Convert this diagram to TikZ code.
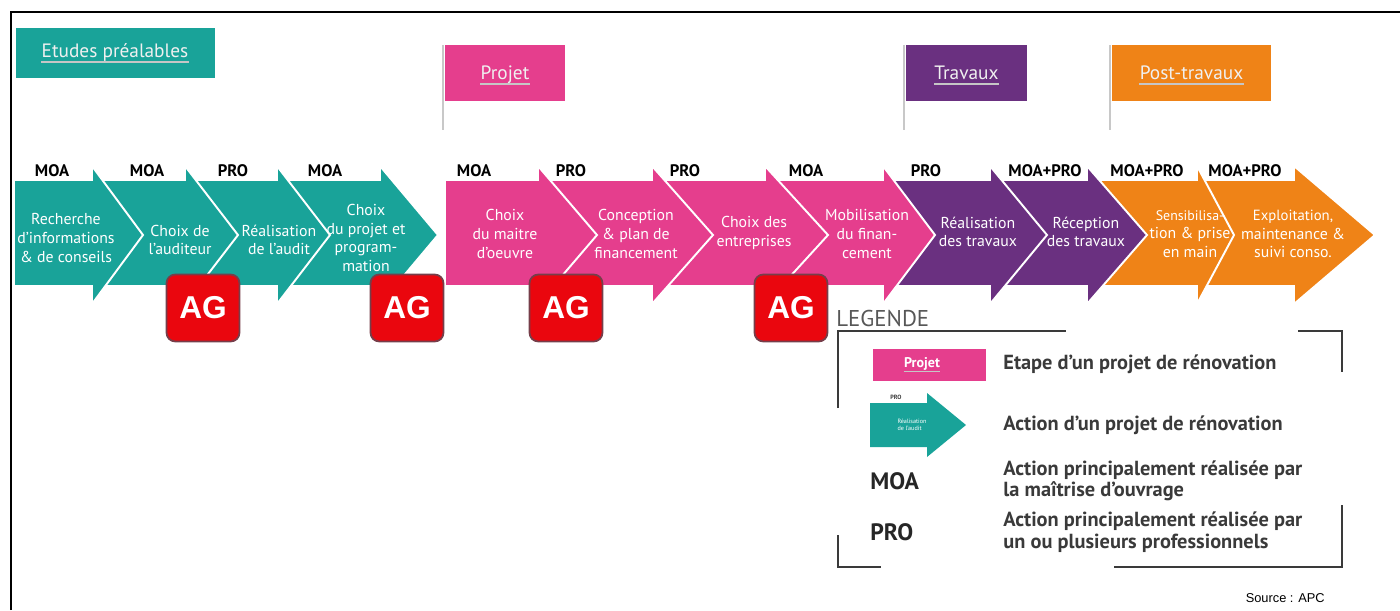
\documentclass[tikz,border=0pt]{standalone}
\usepackage{fontspec}
\setmainfont{PT Sans}
\newfontfamily\arialfont{Liberation Sans}
\usetikzlibrary{positioning}
\definecolor{etudteal}{RGB}{25,163,153}
\definecolor{projpink}{RGB}{229,62,141}
\definecolor{travpurple}{RGB}{106,48,128}
\definecolor{postorange}{RGB}{239,131,23}
\definecolor{agred}{RGB}{234,6,14}
\definecolor{agedge}{RGB}{118,62,74}
\definecolor{textgray}{RGB}{58,58,58}
\definecolor{polegray}{RGB}{200,200,200}

% one action arrow: left, head back, tip, colour
\newcommand{\actarrow}[4]{%
  \filldraw[fill=#4, draw=white, line width=1.1pt] (#1,180) -- (#2,180) -- (#2,166) -- (#3,235) -- (#2,304) -- (#2,286) -- (#1,286) -- cycle;}

\begin{document}
\begin{tikzpicture}[x=0.02cm, y=-0.02cm,
  acttext/.style={text=white, align=center, inner sep=0pt, font=\fontsize{9}{10.6}\selectfont},
  actor/.style={inner sep=0pt, font=\bfseries\fontsize{9.5}{11}\selectfont},
  phase/.style={text=white!94!black, inner sep=0pt, font=\fontsize{11}{13}\selectfont},
  phaseline/.style={white!55!gray, line width=0.9pt},
  pole/.style={polegray, line width=1.2pt},
  agbox/.style={fill=agred, draw=agedge, line width=1pt, rounded corners=5pt, minimum width=1.46cm, minimum height=1.34cm, text=white, font=\arialfont\bfseries\fontsize{18}{18}\selectfont},
  bracket/.style={textgray, line width=1.6pt},
  legkey/.style={anchor=west, inner sep=0pt, text=black!85, font=\bfseries\fontsize{13.5}{15}\selectfont},
  legdesc/.style={anchor=west, align=left, inner sep=0pt, text=textgray, font=\bfseries\fontsize{11.6}{12.2}\selectfont}]
\useasboundingbox (0,0) rectangle (1400,610);

% frame
\draw[line width=1.5pt] (11,610) -- (11,12) -- (1400,12);

% phase flags
\fill[etudteal] (16,28) rectangle (215,78);
\node[phase, anchor=base] (ph1) at (115,57) {Etudes préalables};
\draw[phaseline] ([yshift=-3pt]ph1.base west) -- ([yshift=-3pt]ph1.base east);
\foreach \xa/\xb/\co/\txt [count=\i from 2] in {445/565/projpink/Projet, 906/1027/travpurple/Travaux, 1112/1271/postorange/Post-travaux} {
  \draw[pole] (\xa-2,45) -- (\xa-2,130);
  \fill[\co] (\xa,45) rectangle (\xb,101);
  \node[phase, anchor=base] (ph\i) at ({(\xa+\xb)/2},79) {\txt};
  \draw[phaseline] ([yshift=-3pt]ph\i.base west) -- ([yshift=-3pt]ph\i.base east);
}

% action arrows, right to left so each head lies on the next body
\foreach \la/\ba/\ta/\co in {1201/1294/1375/postorange, 1089/1197/1234/postorange,
    992/1087/1147/travpurple, 885/990/1047/travpurple,
    767/883/935/projpink, 654/765/828/projpink, 540/652/713/projpink, 445/538/597/projpink,
    279/380/438/etudteal, 187/277/330/etudteal, 94/185/238/etudteal, 14/92/143/etudteal}
  \actarrow{\la}{\ba}{\ta}{\co};

% arrow texts
\foreach \x/\y/\txt [count=\i] in {66/238/{Recherche\\d'informations\\\& de conseils}, 180/240/{Choix de\\l'auditeur},
    279/240/{Réalisation\\de l'audit}, 366/238/{Choix\\du projet et\\program-\\mation},
    505/234/{Choix\\du maitre\\d'oeuvre}, 636/234/{Conception\\\& plan de\\financement},
    754/233/{Choix des\\entreprises}, 867/234/{Mobilisation\\du finan-\\cement},
    978/232/{Réalisation\\des travaux}, 1086/232/{Réception\\des travaux},
    1190/234/{\fontsize{7.9}{10.2}\selectfont Sensibilisa-\\tion \& prise\\en main},
    1293/234/{\fontsize{8.4}{10.4}\selectfont Exploitation,\\maintenance \&\\suivi conso.}}
  \node[acttext] (act\i) at (\x,\y) {\txt};

% who acts
\foreach \x/\who [count=\i] in {52/MOA, 147/MOA, 233/PRO, 325/MOA, 474/MOA, 571/PRO, 685/PRO, 806/MOA,
    926/PRO, 1045/MOA+PRO, 1147/MOA+PRO, 1245/MOA+PRO}
  \node[actor] (who\i) at (\x,171) {\who};

% AG marks
\foreach \x [count=\i] in {203,407,566,791}
  \node[agbox] (ag\i) at (\x,308) {AG};

% legend
\node[anchor=west, inner sep=0pt, text=textgray!85, font=\fontsize{13}{15}\selectfont] (leg) at (836,318) {LEGENDE};
\draw[bracket] (838,408) -- (838,331) -- (1066,331);
\draw[bracket] (1298,331) -- (1342,331) -- (1342,372);
\draw[bracket] (838,535) -- (838,567) -- (881,567);
\draw[bracket] (1114,567) -- (1342,567) -- (1342,505);
\fill[projpink] (873,349) rectangle (986,381);
\node[inner sep=0pt, text=white, font=\bfseries\fontsize{8}{9}\selectfont] (legproj) at (922,364) {Projet};
\draw[phaseline, line width=0.5pt] ([yshift=-2pt]legproj.base west) -- ([yshift=-2pt]legproj.base east);
\fill[etudteal] (870,403) -- (927,403) -- (927,393) -- (966,425) -- (927,457) -- (927,447) -- (870,447) -- cycle;
\node[inner sep=0pt, text=textgray, font=\bfseries\fontsize{3.5}{4}\selectfont] (legpro) at (896,397) {PRO};
\node[inner sep=0pt, text=white, align=left, font=\fontsize{3.5}{4}\selectfont] (legact) at (912,425) {Réalisation\\de l'audit};
\node[legkey] (legmoa) at (870,481) {MOA};
\node[legkey] (legpro2) at (870,532) {PRO};
\foreach \y/\txt [count=\i] in {364/{Etape d'un projet de rénovation}, 425/{Action d'un projet de rénovation},
    481/{Action principalement réalisée par\\la maîtrise d'ouvrage}, 532/{Action principalement réalisée par\\un ou plusieurs professionnels}}
  \node[legdesc] (desc\i) at (1003,\y) {\txt};

\node[anchor=east, inner sep=0pt, font=\arialfont\fontsize{7.3}{8}\selectfont] (src) at (1325,598) {Source : APC};
\end{tikzpicture}
\end{document}
